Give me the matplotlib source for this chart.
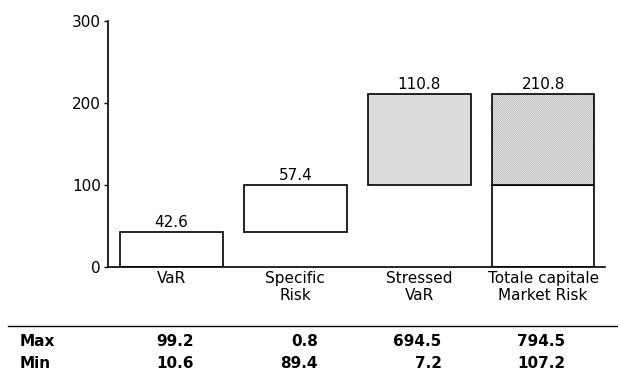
import matplotlib
matplotlib.use("Agg")
import matplotlib.pyplot as plt
import matplotlib.transforms as mtransforms
import numpy as np

categories = ["VaR", "Specific\nRisk", "Stressed\nVaR", "Totale capitale\nMarket Risk"]
steps = [42.6, 57.4, 110.8]
total = 210.8
max_vals = ["99.2", "0.8", "694.5", "794.5"]
min_vals = ["10.6", "89.4", "7.2", "107.2"]

plt.rcParams["font.family"] = ["DejaVu Sans"]
plt.rcParams["hatch.linewidth"] = 0.4
fs = 11

fig = plt.figure(figsize=(6.18, 3.76), dpi=100)
ax = fig.add_axes([0.1748, 0.2899, 0.8042, 0.6543])

x = np.arange(len(categories))
w = 0.83
bases = np.concatenate([[0], np.cumsum(steps)[:-1]])

# step bars
fills = ["white", "white", "#dcdcdc"]
for i in range(len(steps)):
    ax.bar(x[i], steps[i], w, bottom=bases[i], color=fills[i],
           edgecolor="black", linewidth=1.2, zorder=2)
    ax.text(x[i], bases[i] + steps[i] + 3, f"{steps[i]:.1f}",
            ha="center", va="bottom", fontsize=fs)

# total bar: first two steps white, stressed part hatched
split = steps[0] + steps[1]
ax.bar(x[3], split, w, bottom=0, color="white", edgecolor="black",
       linewidth=1.2, zorder=2)
ax.bar(x[3], total - split, w, bottom=split, color="#f2f2f2",
       edgecolor="#9a9a9a", hatch="/" * 16, linewidth=0, zorder=2)
ax.bar(x[3], total - split, w, bottom=split, fill=False,
       edgecolor="black", linewidth=1.2, zorder=3)
ax.text(x[3], total + 3, f"{total:.1f}", ha="center", va="bottom", fontsize=fs)

ax.set_xlim(-0.513, 3.50)
ax.set_ylim(0, 300)
ax.set_yticks([0, 100, 200, 300])
ax.set_xticks(x)
ax.set_xticklabels(categories, fontsize=fs, linespacing=1.15)
ax.tick_params(axis="x", length=0, pad=3)
ax.tick_params(axis="y", length=3, width=1, labelsize=fs, pad=2)
ax.spines["top"].set_visible(False)
ax.spines["right"].set_visible(False)
ax.spines["left"].set_linewidth(1.2)
ax.spines["bottom"].set_linewidth(1.2)

# table under the chart
fig.add_artist(plt.Line2D([8 / 618, 1.0], [1 - 326 / 376] * 2,
                          color="black", linewidth=1.0))
trans = mtransforms.blended_transform_factory(ax.transData, fig.transFigure)
row_y = [1 - 341 / 376, 1 - 364 / 376]
for label, vals, yy in zip(["Max", "Min"], [max_vals, min_vals], row_y):
    fig.text(20 / 618, yy, label, ha="left", va="center",
             fontsize=fs, fontweight="semibold")
    for i, v in enumerate(vals):
        ax.text(x[i] + 0.18, yy, v, transform=trans, ha="right",
                va="center", fontsize=fs, fontweight="semibold", clip_on=False)

fig.savefig("out.png", dpi=100)
